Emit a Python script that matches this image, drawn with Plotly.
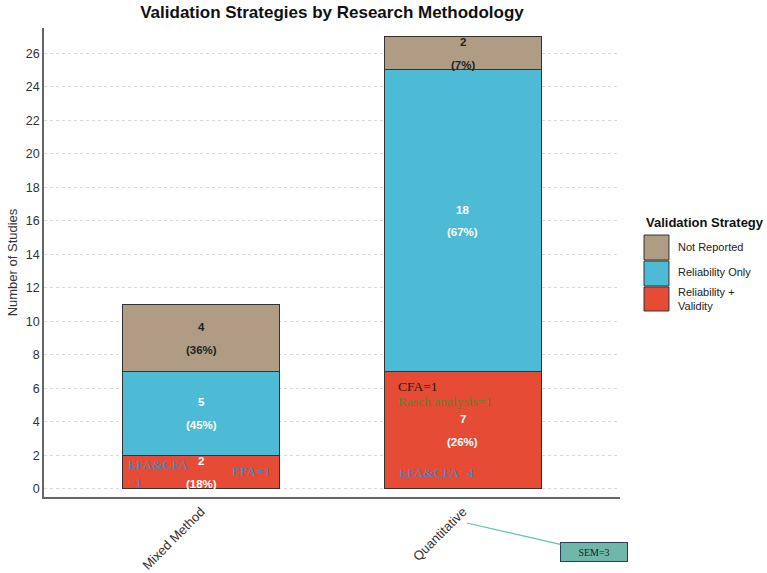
import plotly.graph_objects as go

# ---------------- data ----------------
methods = ["Mixed Method", "Quantitative"]
strategies = ["Reliability + Validity", "Reliability Only", "Not Reported"]
legend_labels = ["Not Reported", "Reliability Only", "Reliability +<br>Validity"]
rel_valid = [2, 7]
rel_only = [5, 18]
not_reported = [4, 2]
y_ticks = list(range(0, 27, 2))

detail_texts = ["EFA&CFA<br>=1", "EFA=1", "CFA=1", "Rasch analysis=1", "EFA&CFA=4"]
sem_text = "SEM=3"

colors = {"Reliability + Validity": "#E64B35",
          "Reliability Only": "#4DBBD5",
          "Not Reported": "#B09C85"}
label_colors = {"Reliability + Validity": "white",
                "Reliability Only": "white",
                "Not Reported": "#222222"}

series = {"Reliability + Validity": rel_valid,
          "Reliability Only": rel_only,
          "Not Reported": not_reported}

fig = go.Figure()
for s in strategies:
    fig.add_trace(go.Bar(
        x=methods, y=series[s], name=s, width=0.6,
        marker=dict(color=colors[s], line=dict(color="#333333", width=1)),
        showlegend=False, hoverinfo="x+y+name"))

totals = [sum(series[s][i] for s in strategies) for i in range(len(methods))]

annotations = []
lab_font = "Liberation Sans, Arial, sans-serif"
for i, m in enumerate(methods):
    base = 0
    for s in strategies:
        v = series[s][i]
        mid = base + v / 2
        pct = round(100 * v / totals[i])
        annotations.append(dict(x=i, y=mid + 0.65, xref="x", yref="y", text=f"<b>{v}</b>",
                                showarrow=False, font=dict(size=11.5, color=label_colors[s], family=lab_font)))
        annotations.append(dict(x=i, y=mid - 0.7, xref="x", yref="y", text=f"<b>({pct}%)</b>",
                                showarrow=False, font=dict(size=11.5, color=label_colors[s], family=lab_font)))
        base += v

# detail annotations (serif)
serif = "Liberation Serif, Times New Roman, serif"
detail_pos = [(-0.285, 0.92, "left", "#3F88C5"),
              (0.192, 1.0, "center", "#3F88C5"),
              (0.745, 6.08, "left", "#2a1a12"),
              (0.745, 5.19, "left", "#6B7B2B"),
              (0.75, 0.95, "left", "#3F88C5")]
for t, (x, y, anc, c) in zip(detail_texts, detail_pos):
    annotations.append(dict(x=x, y=y, xref="x", yref="y", text=t, showarrow=False,
                            xanchor=anc, align="left", yanchor="middle",
                            font=dict(size=13.5, color=c, family=serif)))

# SEM callout
annotations.append(dict(x=0.734, y=-0.0554, xref="paper", yref="paper", text=sem_text,
                        showarrow=True, arrowhead=0, arrowwidth=1.2, arrowcolor="#5FC1B3",
                        ax=127, ay=29, bgcolor="#6FB7AA", bordercolor="#2E3B55", borderwidth=1,
                        borderpad=2, width=62, height=14,
                        font=dict(size=10, color="#1a1a1a", family=serif)))

# custom legend
annotations.append(dict(x=1.0417, y=0.586, xref="paper", yref="paper", xanchor="left", yanchor="middle",
                        text="<b>Validation Strategy</b>", showarrow=False,
                        font=dict(size=13, color="#111111", family=lab_font)))
shapes = []
box_y = [(0.5053, 0.5586), (0.4499, 0.5032), (0.3966, 0.4478)]
text_y = [0.533, 0.4797, 0.4232]
leg_order = ["Not Reported", "Reliability Only", "Reliability + Validity"]
for s, lab, (y0, y1), ty in zip(leg_order, legend_labels, box_y, text_y):
    shapes.append(dict(type="rect", xref="paper", yref="paper", x0=1.0417, x1=1.085, y0=y0, y1=y1,
                       fillcolor=colors[s], line=dict(color="#333333", width=1)))
    annotations.append(dict(x=1.098, y=ty, xref="paper", yref="paper", xanchor="left", yanchor="middle",
                            align="left", text=lab, showarrow=False,
                            font=dict(size=11, color="#222222", family=lab_font)))

fig.update_layout(
    barmode="stack",
    width=767, height=573,
    margin=dict(l=44, r=147, t=28, b=76),
    paper_bgcolor="white", plot_bgcolor="white",
    font=dict(family=lab_font, size=12, color="#333333"),
    title=dict(text="<b>Validation Strategies by Research Methodology</b>", x=0.5, xref="paper",
               y=0.979, yref="container", yanchor="middle",
               font=dict(size=17, color="#111111", family=lab_font)),
    annotations=annotations,
    shapes=shapes,
    showlegend=False,
)
fig.update_xaxes(range=[-0.6, 1.6], tickangle=-45, showline=True, linecolor="#666666", linewidth=2,
                 showgrid=False, ticks="", tickfont=dict(size=13, color="#333333"), automargin=False)
fig.update_yaxes(range=[-0.5, 27.5], tickvals=y_ticks, showline=True, linecolor="#666666", linewidth=1.5,
                 showgrid=True, gridcolor="#d9d9d9", griddash="3px,3px", gridwidth=1, zeroline=False,
                 ticks="", tickfont=dict(size=12.5, color="#333333"), automargin=False,
                 title=dict(text="Number of Studies", standoff=5, font=dict(size=13, color="#333333")))

fig.write_html("out.html")
